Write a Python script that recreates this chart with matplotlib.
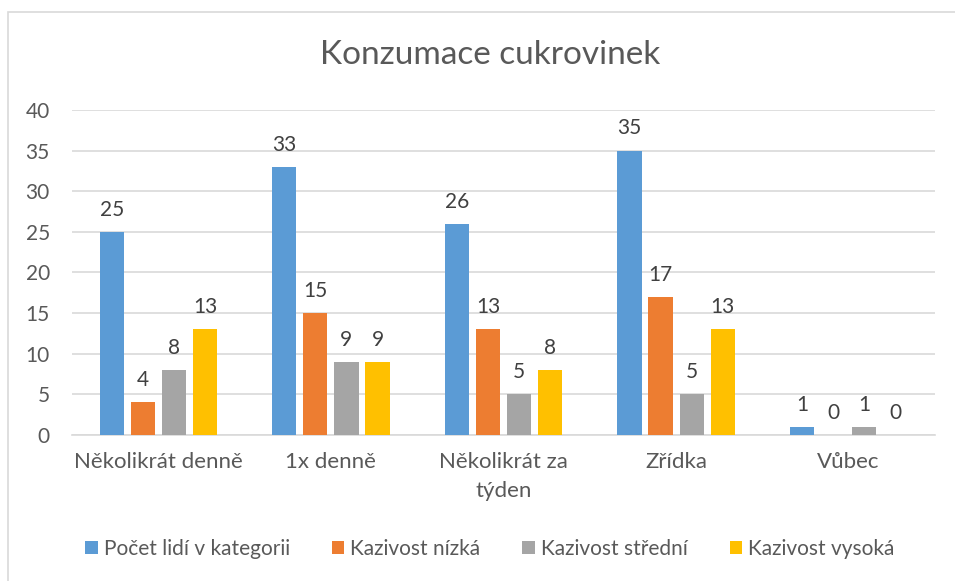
import numpy as np
import matplotlib
matplotlib.use('Agg')
import matplotlib.pyplot as plt
from matplotlib.patches import Rectangle

plt.rcParams['font.family'] = ['Lato', 'DejaVu Sans']

# chart data
categories = ['Několikrát denně', '1x denně', 'Několikrát za\ntýden', 'Zřídka', 'Vůbec']
series_names = ['Počet lidí v kategorii', 'Kazivost nízká', 'Kazivost střední', 'Kazivost vysoká']
pocet_lidi = [25, 33, 26, 35, 1]
kazivost_nizka = [4, 15, 13, 17, 0]
kazivost_stredni = [8, 9, 5, 5, 1]
kazivost_vysoka = [13, 9, 8, 13, 0]
colors = ['#5B9BD5', '#ED7D31', '#A5A5A5', '#FFC000']

text_color = '#595959'
grid_color = '#D9D9D9'

fig = plt.figure(figsize=(9.55, 5.81), dpi=100)
ax = fig.add_axes([0.0754, 0.2513, 0.9036, 0.5594])

# chart border (extends past right/bottom edge)
fig.patches.append(Rectangle((8 / 955, -0.05), 1.1, 1 - 12 / 581 + 0.05,
                             transform=fig.transFigure, fill=False,
                             edgecolor='#D9D9D9', linewidth=1.2))

x = np.arange(len(categories))
pitch = 0.18
width = 0.14
all_series = [pocet_lidi, kazivost_nizka, kazivost_stredni, kazivost_vysoka]
for i, (vals, name, c) in enumerate(zip(all_series, series_names, colors)):
    pos = x + (i - 1.5) * pitch
    ax.bar(pos, vals, width=width, color=c, label=name, zorder=3)
    for px, v in zip(pos, vals):
        ax.text(px, v + 1.5, str(v), ha='center', va='bottom',
                fontsize=15, color='#404040')

ax.set_xlim(-0.5, len(categories) - 0.5)
ax.set_ylim(0, 40)
ax.set_yticks(range(0, 41, 5))
ax.set_xticks(x)
ax.set_xticklabels(categories, linespacing=1.6)
ax.yaxis.grid(True, color=grid_color, linewidth=1.2, zorder=0)
for s in ['top', 'right', 'left']:
    ax.spines[s].set_visible(False)
ax.spines['bottom'].set_color(grid_color)
ax.spines['bottom'].set_linewidth(1.2)
ax.tick_params(axis='both', length=0, colors=text_color)
ax.tick_params(axis='x', pad=12, labelsize=16)
ax.tick_params(axis='y', pad=16, labelsize=15)

fig.text(0.513, 0.905, 'Konzumace cukrovinek', ha='center', va='center',
         fontsize=24, color=text_color)

leg = fig.legend(loc='center', bbox_to_anchor=(0.513, 0.055), ncol=4,
                 frameon=False, fontsize=15, handlelength=0.6, handleheight=0.6,
                 handletextpad=0.3, columnspacing=2.0)
for t in leg.get_texts():
    t.set_color(text_color)

fig.savefig('out.png', dpi=100)
